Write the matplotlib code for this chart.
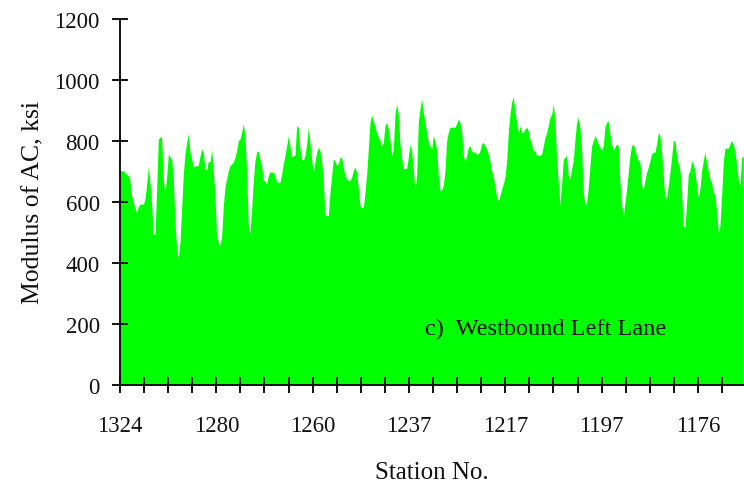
import numpy as np
import matplotlib
matplotlib.use("Agg")
import matplotlib.pyplot as plt

# Modulus of AC (ksi) along the westbound left lane
modulus = [
    # stations 1324 ->
    702, 702, 702, 695, 690, 686, 670, 620, 600, 577,
    567, 583, 593, 593, 591, 610, 659, 714, 663, 590,
    494, 494, 642, 806, 812, 812, 669, 632, 681, 757,
    747, 740, 675, 533, 445, 415, 468, 577, 691, 757,
    796, 823, 763, 740, 714, 718, 718, 720, 750, 773,
    763, 708, 705, 734, 730, 773, 698, 620, 484, 470,
    # ->
    455, 489, 587, 649, 675, 702, 719, 724, 730, 747,
    768, 801, 806, 829, 856, 817, 698, 522, 494, 577,
    670, 735, 763, 768, 740, 719, 670, 670, 659, 686,
    698, 698, 698, 686, 665, 664, 664, 691, 724, 752,
    784, 817, 784, 747, 752, 752, 850, 845, 773, 740,
    735, 752, 790, 845, 796, 740, 698, 730, 763, 779,
    768, 735, 670, 555,
    # ->
    555, 555, 631, 686, 740, 735, 719, 724, 746, 746,
    714, 686, 675, 670, 670, 681, 702, 714, 698, 642,
    587, 582, 582, 631, 691, 773, 861, 885, 866, 845,
    828, 812, 801, 784, 795, 850, 861, 839, 801, 752,
    773, 888, 921, 888, 790, 746, 708, 710, 710, 746,
    790, 768, 708, 637, 686, 861, 905, 938, 894, 861,
    828, 795,
    # ->
    784, 773, 817, 801, 773, 686, 637, 640, 653, 702,
    801, 828, 845, 845, 845, 845, 856, 872, 861, 834,
    752, 730, 752, 779, 784, 768, 763, 763, 757, 757,
    768, 790, 795, 784, 773, 757, 735, 702, 681, 653,
    615, 604, 620, 642, 659, 681, 735, 828, 888, 927,
    946, 894, 861, 828, 850, 828, 828, 839, 845, 834,
    806, 790, 768,
    # ->
    768, 752, 752, 752, 757, 784, 812, 828, 850, 877,
    888, 921, 872, 740, 664, 587, 659, 740, 746, 752,
    686, 675, 708, 735, 806, 861, 877, 845, 773, 631,
    587, 598, 648, 719, 784, 801, 817, 806, 790, 779,
    768, 784, 845, 861, 866, 823, 790, 768, 779, 790,
    784, 664, 593, 549, 598, 642, 697, 752, 784, 790,
    773, 752, 735,
    # -> end
    730, 653, 642, 670, 697, 714, 735, 757, 763, 763,
    790, 828, 817, 763, 686, 610, 615, 653, 697, 746,
    801, 801, 752, 724, 702, 631, 522, 516, 598, 691,
    702, 735, 724, 702, 653, 615, 642, 702, 735, 763,
    730, 702, 675, 664, 631, 625, 566, 500, 522, 620,
    730, 776, 776, 776, 790, 801, 790, 763, 724, 675,
    653, 746, 750,
]

station_labels = ["1324", "1280", "1260", "1237", "1217", "1197", "1176"]
y_ticks = [0, 200, 400, 600, 800, 1000, 1200]

serif = ["Liberation Serif", "DejaVu Serif"]
plt.rcParams["font.family"] = serif

fig = plt.figure(figsize=(7.44, 4.89), dpi=100)
ax = fig.add_axes([120 / 744, 1 - 385.7 / 489, 623.3 / 744, (385.7 - 20) / 489])

x = np.arange(len(modulus))
ax.fill_between(x, modulus, 0, color="#00ff00", linewidth=0)

ax.set_xlim(0, len(modulus) - 1)
ax.set_ylim(0, 1200)

# category-style ticks: minor every tick, labels every 4th tick
tick_step = 14.45
n_ticks = 26
tick_pos = np.arange(n_ticks) * tick_step
labels = []
for i in range(n_ticks):
    if i % 4 == 0 and i // 4 < len(station_labels):
        labels.append(station_labels[i // 4])
    else:
        labels.append("")
ax.set_xticks(tick_pos)
ax.set_xticklabels(labels)
ax.set_yticks(y_ticks)
ax.set_yticklabels([str(v) for v in y_ticks])

for s in ["top", "right"]:
    ax.spines[s].set_visible(False)
for s in ["left", "bottom"]:
    ax.spines[s].set_linewidth(1.4)
    ax.spines[s].set_color("#111111")
    ax.spines[s].set_zorder(5)

ax.tick_params(axis="both", direction="inout", length=11, width=1.4,
               color="#111111", labelsize=16.5, labelcolor="#111111")
ax.tick_params(axis="y", pad=9)
ax.tick_params(axis="x", pad=16)

ax.set_xlabel("Station No.", fontsize=18, labelpad=18, color="#111111")
ax.set_ylabel("Modulus of AC, ksi", fontsize=18.5, labelpad=7, color="#111111")

ax.text(0.49, 0.155, "c)  Westbound Left Lane", transform=ax.transAxes,
        fontsize=17.5, ha="left", va="center", color="#111111")

fig.savefig("out.png", dpi=100)
